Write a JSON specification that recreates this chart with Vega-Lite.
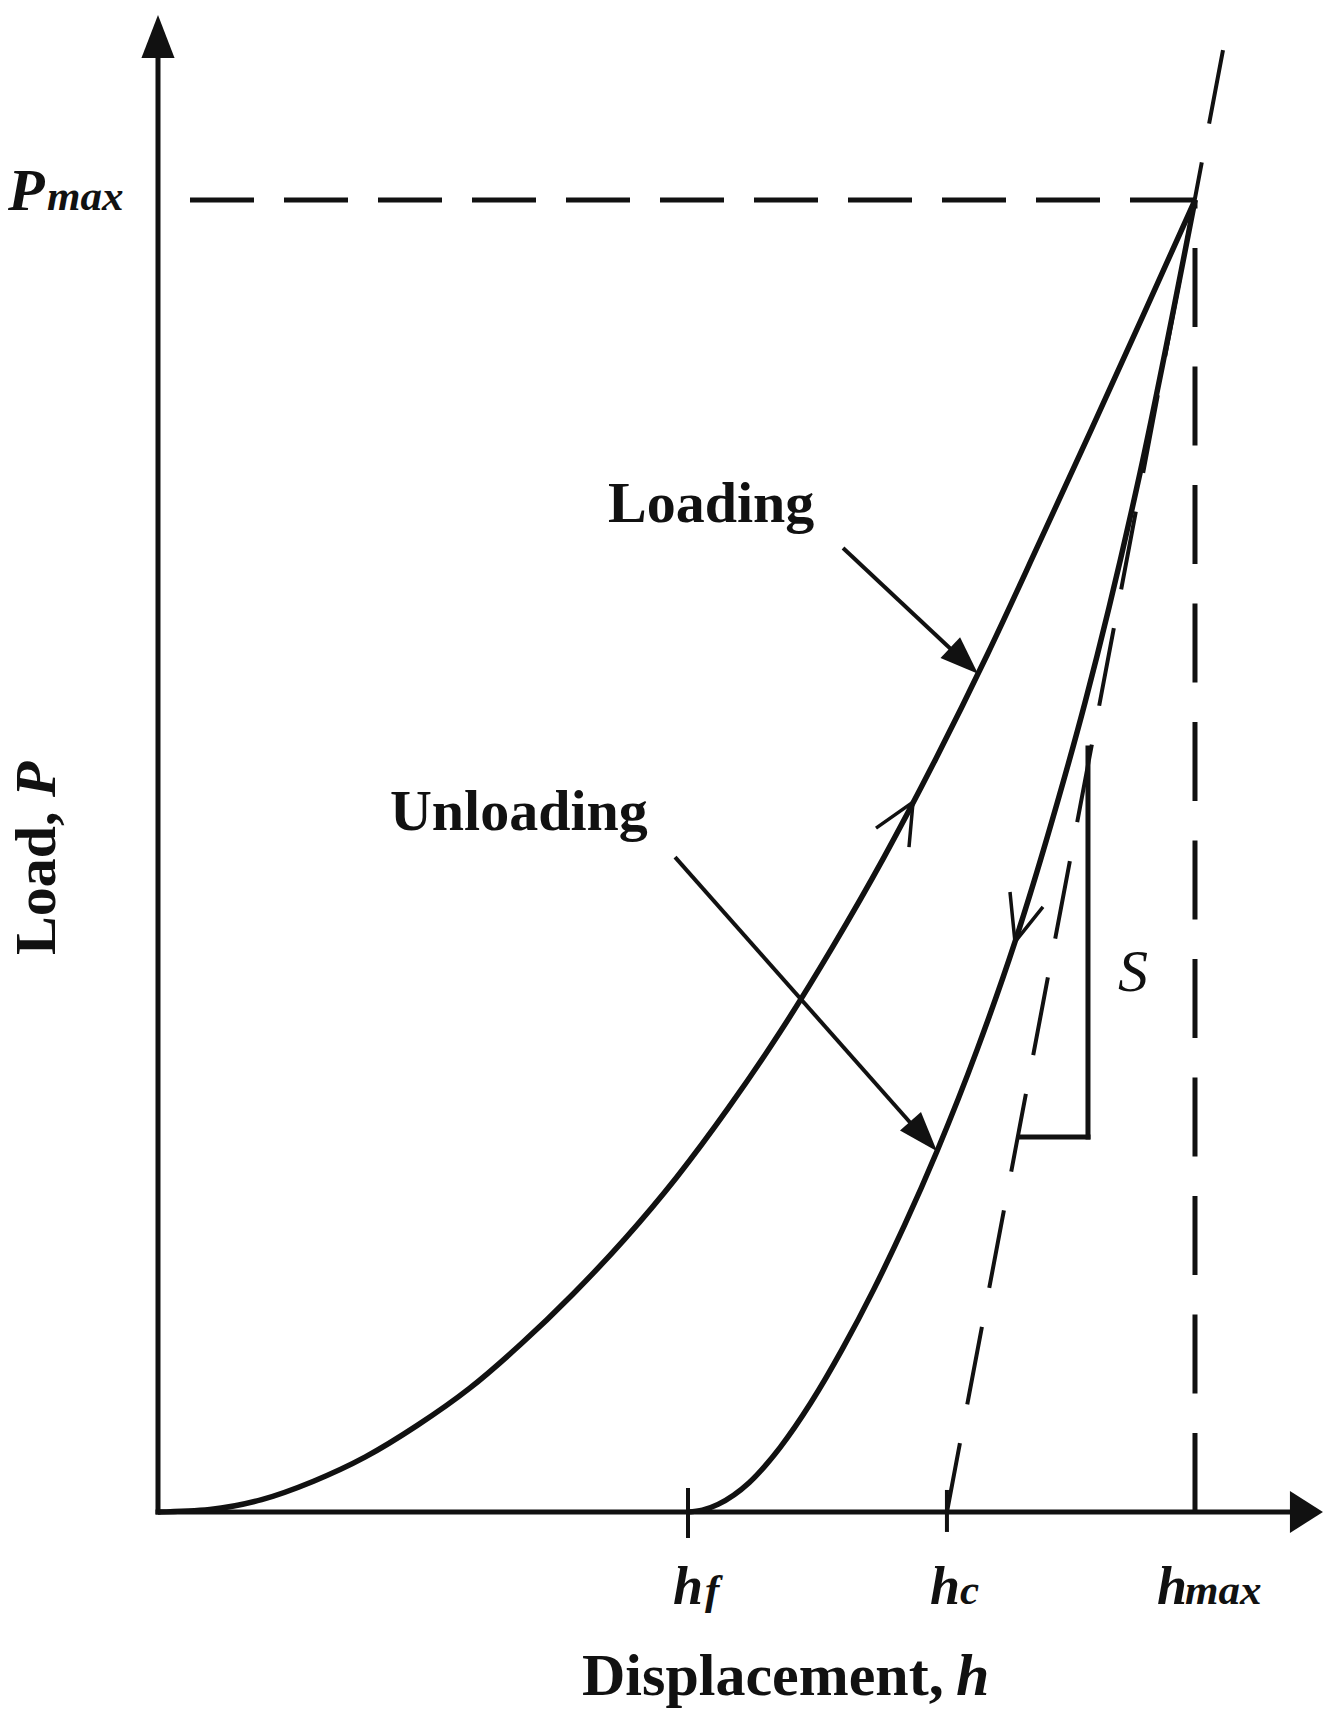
{
  "$schema": "https://vega.github.io/schema/vega-lite/v6.json",
  "width": 1335,
  "height": 1728,
  "autosize": {"type": "fit", "contains": "padding"},
  "padding": 0,
  "background": "white",
  "config": {"view": {"stroke": null}},
  "datasets": {
    "axes": [
      {"x": 0, "y": 0, "x2": 0, "y2": 111.5},
      {"x": 0, "y": 0, "x2": 109.6, "y2": 0}
    ],
    "ticks": [
      {"x": 51.11, "y": -1.98, "x2": 51.11, "y2": 1.83},
      {"x": 76.08, "y": -1.52, "x2": 76.08, "y2": 1.68}
    ],
    "pmax": [{"x": 3.086, "y": 100, "x2": 100, "y2": 100}],
    "hmaxline": [{"x": 100, "y": 0, "x2": 100, "y2": 100}],
    "tangent": [{"x": 76.08, "y": 0, "x2": 102.7, "y2": 111.43}],
    "triangle": [
      {"x": 89.68, "y": 28.58, "x2": 89.68, "y2": 58.23},
      {"x": 83.12, "y": 28.58, "x2": 89.68, "y2": 28.58}
    ],
    "loading": [
      {"x": 0, "y": 0},
      {"x": 5, "y": 0.2},
      {"x": 10, "y": 0.95},
      {"x": 15, "y": 2.35},
      {"x": 20, "y": 4.2},
      {"x": 25, "y": 6.6},
      {"x": 30, "y": 9.4},
      {"x": 35, "y": 12.8},
      {"x": 40, "y": 16.6},
      {"x": 45, "y": 20.8},
      {"x": 50, "y": 25.5},
      {"x": 55, "y": 30.8},
      {"x": 60, "y": 36.6},
      {"x": 65, "y": 43.0},
      {"x": 70, "y": 49.9},
      {"x": 75, "y": 57.4},
      {"x": 80, "y": 65.4},
      {"x": 85, "y": 73.9},
      {"x": 90, "y": 82.5},
      {"x": 95, "y": 91.2},
      {"x": 100, "y": 100}
    ],
    "unloading": [
      {"x": 51.11, "y": 0},
      {"x": 52.5, "y": 0.14},
      {"x": 54, "y": 0.58},
      {"x": 57, "y": 2.23},
      {"x": 60, "y": 4.93},
      {"x": 63, "y": 8.38},
      {"x": 66, "y": 12.43},
      {"x": 69, "y": 16.93},
      {"x": 72, "y": 21.88},
      {"x": 75.12, "y": 27.5},
      {"x": 79, "y": 35.26},
      {"x": 82.64, "y": 43.45},
      {"x": 86.69, "y": 53.98},
      {"x": 89.39, "y": 61.68},
      {"x": 94.7, "y": 79.2},
      {"x": 100, "y": 100}
    ],
    "chevrons": [
      {"id": "L", "i": 0, "x": 69.24, "y": 52.12},
      {"id": "L", "i": 1, "x": 72.81, "y": 54.11},
      {"id": "L", "i": 2, "x": 72.42, "y": 50.68},
      {"id": "U", "i": 0, "x": 82.16, "y": 47.26},
      {"id": "U", "i": 1, "x": 82.64, "y": 43.45},
      {"id": "U", "i": 2, "x": 85.34, "y": 46.12}
    ],
    "pointers": [
      {"x": 66.06, "y": 73.48, "x2": 76.86, "y2": 65.47},
      {"x": 49.86, "y": 49.92, "x2": 73.0, "y2": 29.27}
    ],
    "headY": [{"x": 0, "y": 114.1}],
    "headX": [{"x": 112.34, "y": 0}],
    "headLoading": [{"x": 79.07, "y": 63.9}],
    "headUnloading": [{"x": 75.12, "y": 27.5}],
    "boldLabels": [
      {"x": 43.39, "y": 75.46, "text": "Loading"},
      {"x": 22.37, "y": 51.98, "text": "Unloading"}
    ],
    "xTitle": [{"x": 40.89, "y": -13.95, "text": "Displacement,"}],
    "xTitleH": [{"x": 76.95, "y": -13.95, "text": "h"}],
    "yTitle": [{"x": -9.93, "y": 42.45, "text": "Load,"}],
    "yTitleP": [{"x": -9.93, "y": 54.5, "text": "P"}],
    "sLabel": [{"x": 94.02, "y": 41.08, "text": "S"}],
    "pLabel": [{"x": -14.46, "y": 99.24, "text": "P"}],
    "hLabels": [
      {"x": 49.66, "y": -7.01, "text": "h"},
      {"x": 74.45, "y": -7.01, "text": "h"},
      {"x": 96.34, "y": -7.01, "text": "h"}
    ],
    "subLabels": [
      {"x": -10.7, "y": 99.24, "text": "max"},
      {"x": 52.75, "y": -7.01, "text": "f"},
      {"x": 77.34, "y": -7.01, "text": "c"},
      {"x": 99.04, "y": -7.01, "text": "max"}
    ]
  },
  "encoding": {
    "x": {"field": "x", "type": "quantitative", "scale": {"domain": [-15.236, 113.501], "nice": false, "zero": false}, "axis": null},
    "y": {"field": "y", "type": "quantitative", "scale": {"domain": [-16.463, 115.244], "nice": false, "zero": false}, "axis": null}
  },
  "layer": [
    {"data": {"name": "axes"}, "mark": {"type": "rule", "strokeWidth": 5, "color": "#111", "strokeCap": "square"}, "encoding": {"x2": {"field": "x2"}, "y2": {"field": "y2"}}},
    {"data": {"name": "ticks"}, "mark": {"type": "rule", "strokeWidth": 4, "color": "#111"}, "encoding": {"x2": {"field": "x2"}, "y2": {"field": "y2"}}},
    {"data": {"name": "pmax"}, "mark": {"type": "rule", "strokeWidth": 5, "color": "#111", "strokeDash": [64, 30]}, "encoding": {"x2": {"field": "x2"}, "y2": {"field": "y2"}}},
    {"data": {"name": "hmaxline"}, "mark": {"type": "rule", "strokeWidth": 5, "color": "#111", "strokeDash": [79, 39.5]}, "encoding": {"x2": {"field": "x2"}, "y2": {"field": "y2"}}},
    {"data": {"name": "tangent"}, "mark": {"type": "rule", "strokeWidth": 4, "color": "#111", "strokeDash": [79, 39.5], "strokeDashOffset": 9}, "encoding": {"x2": {"field": "x2"}, "y2": {"field": "y2"}}},
    {"data": {"name": "triangle"}, "mark": {"type": "rule", "strokeWidth": 5, "color": "#111", "strokeCap": "square"}, "encoding": {"x2": {"field": "x2"}, "y2": {"field": "y2"}}},
    {"data": {"name": "loading"}, "mark": {"type": "line", "strokeWidth": 5.5, "color": "#111", "interpolate": "monotone"}, "encoding": {}},
    {"data": {"name": "unloading"}, "mark": {"type": "line", "strokeWidth": 5.5, "color": "#111", "interpolate": "monotone"}, "encoding": {}},
    {"data": {"name": "chevrons"}, "mark": {"type": "line", "strokeWidth": 3.5, "color": "#111"}, "encoding": {"detail": {"field": "id"}, "order": {"field": "i", "type": "quantitative"}}},
    {"data": {"name": "pointers"}, "mark": {"type": "rule", "strokeWidth": 4, "color": "#111"}, "encoding": {"x2": {"field": "x2"}, "y2": {"field": "y2"}}},
    {"data": {"name": "headY"}, "mark": {"type": "point", "shape": "M0,0L-0.77,2L0.77,2Z", "size": 1849, "filled": true, "color": "#111", "opacity": 1, "strokeWidth": 0, "angle": 0}, "encoding": {}},
    {"data": {"name": "headX"}, "mark": {"type": "point", "shape": "M0,0L-1.27,2L1.27,2Z", "size": 1089, "filled": true, "color": "#111", "opacity": 1, "strokeWidth": 0, "angle": 90}, "encoding": {}},
    {"data": {"name": "headLoading"}, "mark": {"type": "point", "shape": "M0,0L-0.75,2L0.75,2Z", "size": 1444, "filled": true, "color": "#111", "opacity": 1, "strokeWidth": 0, "angle": 133.3}, "encoding": {}},
    {"data": {"name": "headUnloading"}, "mark": {"type": "point", "shape": "M0,0L-0.7,2L0.7,2Z", "size": 1600, "filled": true, "color": "#111", "opacity": 1, "strokeWidth": 0, "angle": 138.5}, "encoding": {}},
    {"data": {"name": "boldLabels"}, "mark": {"type": "text", "font": "Liberation Serif", "fontWeight": "bold", "fontSize": 58, "align": "left", "baseline": "alphabetic", "color": "#111"}, "encoding": {"text": {"field": "text"}}},
    {"data": {"name": "xTitle"}, "mark": {"type": "text", "font": "Liberation Serif", "fontWeight": "bold", "fontSize": 60, "align": "left", "baseline": "alphabetic", "color": "#111"}, "encoding": {"text": {"field": "text"}}},
    {"data": {"name": "xTitleH"}, "mark": {"type": "text", "font": "Liberation Serif", "fontWeight": "bold", "fontStyle": "italic", "fontSize": 60, "align": "left", "baseline": "alphabetic", "color": "#111"}, "encoding": {"text": {"field": "text"}}},
    {"data": {"name": "yTitle"}, "mark": {"type": "text", "font": "Liberation Serif", "fontWeight": "bold", "fontSize": 58, "align": "left", "baseline": "alphabetic", "angle": 270, "color": "#111"}, "encoding": {"text": {"field": "text"}}},
    {"data": {"name": "yTitleP"}, "mark": {"type": "text", "font": "Liberation Serif", "fontWeight": "bold", "fontStyle": "italic", "fontSize": 58, "align": "left", "baseline": "alphabetic", "angle": 270, "color": "#111"}, "encoding": {"text": {"field": "text"}}},
    {"data": {"name": "sLabel"}, "mark": {"type": "text", "font": "Liberation Serif", "fontStyle": "italic", "fontSize": 60, "align": "center", "baseline": "middle", "color": "#111"}, "encoding": {"text": {"field": "text"}}},
    {"data": {"name": "pLabel"}, "mark": {"type": "text", "font": "Liberation Serif", "fontWeight": "bold", "fontStyle": "italic", "fontSize": 60, "align": "left", "baseline": "alphabetic", "color": "#111"}, "encoding": {"text": {"field": "text"}}},
    {"data": {"name": "hLabels"}, "mark": {"type": "text", "font": "Liberation Serif", "fontWeight": "bold", "fontStyle": "italic", "fontSize": 54, "align": "left", "baseline": "alphabetic", "color": "#111"}, "encoding": {"text": {"field": "text"}}},
    {"data": {"name": "subLabels"}, "mark": {"type": "text", "font": "Liberation Serif", "fontWeight": "bold", "fontStyle": "italic", "fontSize": 43, "align": "left", "baseline": "alphabetic", "color": "#111"}, "encoding": {"text": {"field": "text"}}}
  ]
}
